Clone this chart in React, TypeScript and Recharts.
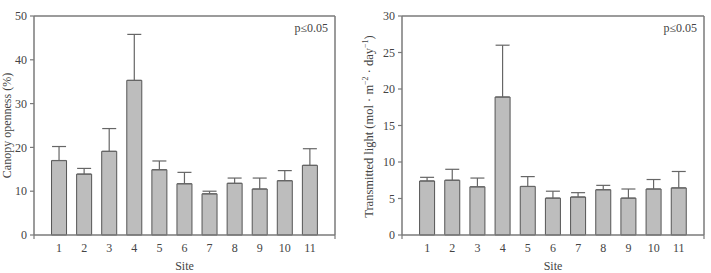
import { BarChart, Bar, XAxis, YAxis, ErrorBar, ReferenceLine } from 'recharts'

const sites = [1, 2, 3, 4, 5, 6, 7, 8, 9, 10, 11]
const canopy = [17.0, 13.9, 19.1, 35.3, 14.9, 11.7, 9.4, 11.8, 10.5, 12.4, 15.9]
const canopySE = [3.2, 1.3, 5.2, 10.5, 2.0, 2.6, 0.6, 1.2, 2.5, 2.3, 3.8]
const light = [7.4, 7.5, 6.6, 18.9, 6.65, 5.05, 5.2, 6.2, 5.05, 6.3, 6.45]
const lightSE = [0.5, 1.5, 1.2, 7.1, 1.35, 0.95, 0.6, 0.6, 1.25, 1.3, 2.25]
const canopyTicks = [0, 10, 20, 30, 40, 50]
const lightTicks = [0, 5, 10, 15, 20, 25, 30]
const xTicks = [0, 1, 2, 3, 4, 5, 6, 7, 8, 9, 10, 11, 12]

const FONT = '"Liberation Serif", "DejaVu Serif", serif'
const AXIS = '#7a7a7a'
const TEXT = '#444'

function SiteTick(props: any) {
  const { x, y, payload } = props
  const v = payload.value
  if (v === 0 || v === 12) {
    return <line x1={x} x2={x} y1={y - 8} y2={y - 4} stroke={AXIS} strokeWidth={1.2} />
  }
  return (
    <text x={x} y={y} dy="0.71em" textAnchor="middle" fill={TEXT} fontSize={12} fontFamily={FONT}>
      {v}
    </text>
  )
}

interface PanelProps {
  values: number[]
  se: number[]
  yMax: number
  yTicks: number[]
  yWidth: number
  width: number
  right: number
  yLabel: (vb: any) => any
}

function Panel({ values, se, yMax, yTicks, yWidth, width, right, yLabel }: PanelProps) {
  const data = sites.map((s, i) => ({ site: s, value: values[i], err: [0, se[i]] }))
  return (
    <BarChart width={width} height={273} data={data} margin={{ top: 16, right, bottom: 0, left: 0 }}>
      <XAxis
        dataKey="site"
        type="number"
        domain={[0, 12]}
        ticks={xTicks}
        interval={0}
        height={38}
        tickLine={false}
        axisLine={{ stroke: AXIS, strokeWidth: 1.5 }}
        tick={<SiteTick />}
        label={{ value: 'Site', position: 'insideBottom', offset: 3, fill: TEXT, fontSize: 12, fontFamily: FONT }}
      />
      <YAxis
        domain={[0, yMax]}
        ticks={yTicks}
        interval={0}
        width={yWidth}
        tickSize={4}
        tickMargin={3}
        axisLine={{ stroke: AXIS, strokeWidth: 1.5 }}
        tickLine={{ stroke: AXIS, strokeWidth: 1.2 }}
        tick={{ fill: TEXT, fontSize: 12, fontFamily: FONT }}
        label={{ content: (p: any) => yLabel(p.viewBox) }}
      />
      <ReferenceLine y={yMax} stroke={AXIS} strokeWidth={1.5} ifOverflow="visible"
        label={{ value: 'p≤0.05', position: 'insideTopRight', offset: 7, fill: TEXT, fontSize: 12, fontFamily: FONT }} />
      <ReferenceLine x={12} stroke={AXIS} strokeWidth={1.5} ifOverflow="visible" />
      <Bar dataKey="value" barSize={15} fill="#bdbdbd" stroke="#555" strokeWidth={1} isAnimationActive={false}>
        <ErrorBar dataKey="err" width={7} stroke="#666" strokeWidth={1.2} direction="y" />
      </Bar>
    </BarChart>
  )
}

function canopyLabel(vb: any) {
  const cx = vb.x + 11
  const cy = vb.y + vb.height / 2
  return (
    <text x={cx} y={cy} transform={`rotate(-90, ${cx}, ${cy})`} textAnchor="middle"
      fill={TEXT} fontSize={12} fontFamily={FONT}>
      Canopy openness (%)
    </text>
  )
}

function lightLabel(vb: any) {
  const cx = vb.x + 18
  const cy = vb.y + vb.height / 2 + 1
  return (
    <text x={cx} y={cy} transform={`rotate(-90, ${cx}, ${cy})`} textAnchor="middle"
      fill={TEXT} fontSize={12.5} fontFamily={FONT}>
      Transmitted light (mol · m
      <tspan dy={-5} fontSize={8}>−2</tspan>
      <tspan dy={5}> · day</tspan>
      <tspan dy={-5} fontSize={8}>−1</tspan>
      <tspan dy={5}>)</tspan>
    </text>
  )
}

export default function App() {
  return (
    <div style={{ position: 'absolute', left: 0, top: 0, width: 711, height: 273, display: 'flex', background: '#fff' }}>
      <Panel values={canopy} se={canopySE} yMax={50} yTicks={canopyTicks} yWidth={34} width={355} right={20} yLabel={canopyLabel} />
      <Panel values={light} se={lightSE} yMax={30} yTicks={lightTicks} yWidth={47} width={356} right={7} yLabel={lightLabel} />
    </div>
  )
}
